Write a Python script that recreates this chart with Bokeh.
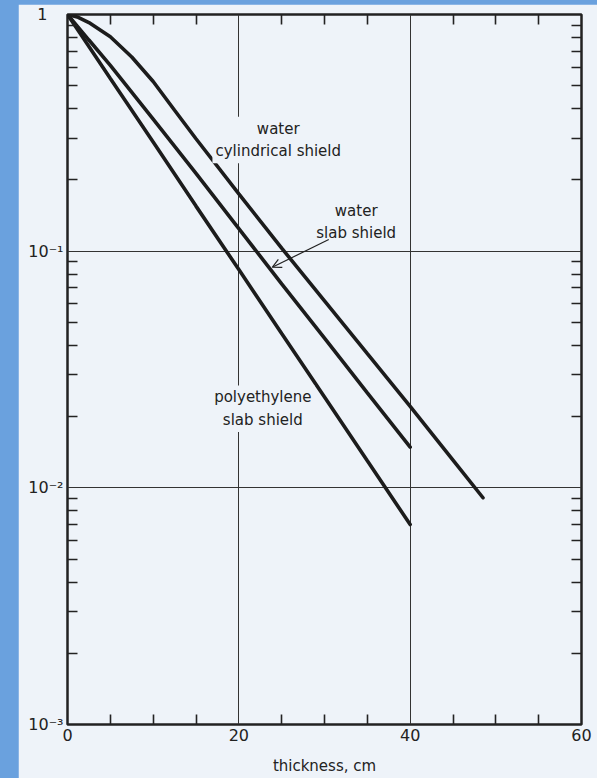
from bokeh.plotting import figure
from bokeh.models import (Range1d, FixedTicker, LinearAxis, LogAxis, Label,
                          Arrow, OpenHead, ColumnDataSource)
from bokeh.embed import file_html
from bokeh.resources import INLINE

# ---------------- data ----------------
poly_x = [0, 5, 10, 15, 20, 25, 30, 35, 40]
poly_y = [1.0, 0.537, 0.289, 0.155, 0.0836, 0.0449, 0.0242, 0.0130, 0.0070]

slab_x = [0, 2.5, 5, 10, 15, 20, 25, 30, 35, 40]
slab_y = [1.0, 0.78, 0.61, 0.361, 0.213, 0.1245, 0.0728, 0.0429, 0.0252, 0.01485]

cyl_x = [0, 1.25, 2.5, 5, 7.5, 10, 12.5, 15, 20, 25, 30, 35, 40, 45, 48.5]
cyl_y = [1.0, 0.973, 0.925, 0.805, 0.661, 0.521, 0.394, 0.2985, 0.1746, 0.103,
         0.0617, 0.0369, 0.0221, 0.0131, 0.00908]

x_ticks = [0, 20, 40, 60]
x_tick_labels = ["0", "20", "40", "60"]
x_minor = [5, 10, 15, 25, 30, 35, 45, 50, 55]

y_ticks = [0.001, 0.01, 0.1, 1.0]
# the top label "1" sits further left in the scan: an em space pads it
y_tick_labels = ["10\u207b\u00b3", "10\u207b\u00b2", "10\u207b\u00b9", "1\u2003"]
y_minor = [m * d for d in (0.001, 0.01, 0.1) for m in range(2, 10)]

curve_labels = ["water\ncylindrical shield", "water\nslab shield", "polyethylene\nslab shield"]
x_title = "thickness, cm"
y_title = "dose equivalent transmission"

# ---------------- styling ----------------
PAPER = "#eef3f9"
BLUE = "#6aa1de"
INK = "#222222"
FONT = "DejaVu Sans"

p = figure(width=579, height=774, x_range=Range1d(0, 60), y_range=Range1d(1e-3, 1),
           y_axis_type="log", output_backend="svg", toolbar_location=None,
           min_border_left=49, min_border_right=16, min_border_top=10, min_border_bottom=54)
p.background_fill_color = PAPER
p.border_fill_color = PAPER
p.outline_line_color = INK
p.outline_line_width = 2.5

xt = FixedTicker(ticks=x_ticks, minor_ticks=x_minor)
yt = FixedTicker(ticks=y_ticks, minor_ticks=y_minor)

bottom_axis = p.below[0]
left_axis = p.left[0]
bottom_axis.ticker = xt
left_axis.ticker = yt
p.xgrid.ticker = xt
p.ygrid.ticker = yt
bottom_axis.major_label_overrides = {v: s for v, s in zip(x_ticks, x_tick_labels)}
left_axis.major_label_overrides = {v: s for v, s in zip(y_ticks, y_tick_labels)}

top_axis = LinearAxis(ticker=xt, major_label_text_font_size="1px", major_label_standoff=0,
                      major_label_overrides={v: "" for v in x_ticks})
right_axis = LogAxis(ticker=yt, major_label_text_font_size="1px", major_label_standoff=0,
                     major_label_overrides={v: "" for v in y_ticks})
p.add_layout(top_axis, "above")
p.add_layout(right_axis, "right")

for ax in [bottom_axis, left_axis, top_axis, right_axis]:
    ax.axis_line_color = None
    ax.major_tick_in = 0
    ax.major_tick_out = 0
    ax.minor_tick_in = 10
    ax.minor_tick_out = 0
    ax.minor_tick_line_color = INK
    ax.minor_tick_line_width = 1.6
    ax.major_label_text_font = FONT
    ax.major_label_text_color = INK

bottom_axis.major_label_text_font_size = "16px"
bottom_axis.major_label_standoff = 4
left_axis.major_label_text_font_size = "16px"
left_axis.major_label_standoff = 4

bottom_axis.axis_label = x_title
bottom_axis.axis_label_text_font = FONT
bottom_axis.axis_label_text_font_size = "15px"
bottom_axis.axis_label_text_font_style = "normal"
bottom_axis.axis_label_text_color = INK
bottom_axis.axis_label_standoff = 13

for g in (p.xgrid, p.ygrid):
    g.grid_line_color = "#333333"
    g.grid_line_width = 1

# ---------------- curves ----------------
for xs, ys in [(poly_x, poly_y), (slab_x, slab_y), (cyl_x, cyl_y)]:
    src = ColumnDataSource(dict(x=xs, y=ys))
    p.line("x", "y", source=src, line_color="#1c1c1c", line_width=3.6, line_cap="round")

# ---------------- annotations ----------------
def add_label(x, y, text):
    p.add_layout(Label(x=x, y=y, text=text, text_align="center", text_baseline="middle",
                       text_font=FONT, text_font_size="15px", text_color=INK,
                       text_line_height=1.25, background_fill_color=PAPER, padding=3))

add_label(24.6, 0.295, curve_labels[0])
add_label(33.7, 0.133, curve_labels[1])
add_label(22.8, 0.0216, curve_labels[2])

p.add_layout(Arrow(end=OpenHead(size=9, line_width=1.2, line_color=INK),
                   x_start=30.5, y_start=0.112, x_end=23.9, y_end=0.0855,
                   line_width=1.2, line_color=INK))

# y-axis title, mostly hidden behind the blue page edge as in the scan
p.add_layout(Label(x=0, y=0.0304, x_offset=-45, text=y_title, angle=1.5708,
                   text_align="center", text_baseline="alphabetic", text_font=FONT,
                   text_font_size="15px", text_color=INK))

html = file_html(p, INLINE)
css = ("<style>html,body{background:%s !important;overflow:hidden !important;}"
       "body{margin:4px 0 0 18px !important;}</style>" % BLUE)
html = html.replace("</head>", css + "</head>", 1)
open("out.html", "w").write(html)
